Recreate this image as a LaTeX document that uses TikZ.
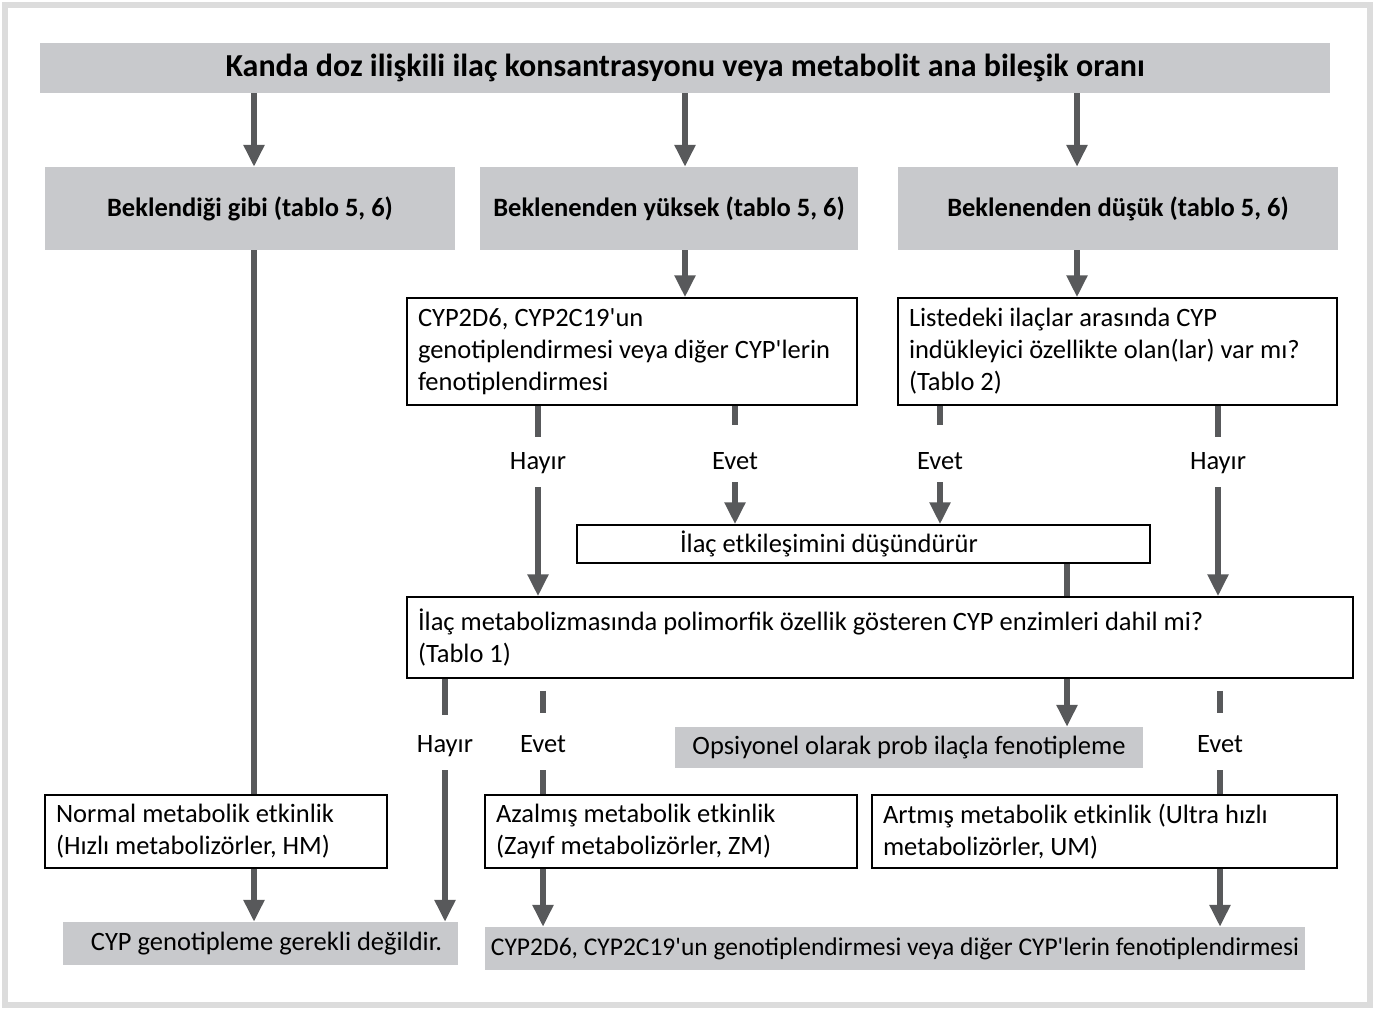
\documentclass[tikz,border=0pt]{standalone}
\usepackage{fontspec}
\newfontfamily\carlito{Carlito}
\usetikzlibrary{arrows.meta}
\definecolor{boxgrey}{RGB}{200,201,204}
\definecolor{arrowgrey}{RGB}{88,89,91}
\definecolor{framegrey}{RGB}{220,220,220}
\tikzset{
BOX/.style={draw=black,line width=1.5pt,fill=white,inner sep=0pt,align=flush left,font=\carlito\fontsize{26.5}{32}\selectfont},
GREYBOX/.style={draw=none,fill=boxgrey,inner sep=0pt,font=\carlito\fontsize{26.5}{32}\selectfont},
HEAD/.style={GREYBOX,font=\carlito\bfseries\fontsize{#1}{32}\selectfont},
HEAD/.default = 26.5,
LABEL/.style={inner sep=0pt,text height=22pt,text depth=3pt,font=\carlito\fontsize{26.5}{32}\selectfont},
LINK/.style={draw=arrowgrey,line width=6pt},
ARROW/.style={LINK,-{Triangle[width=20pt,length=22pt]}},
}

\begin{document}
\begin{tikzpicture}[x=1pt,y=-1pt]
	\useasboundingbox (0,0) rectangle (1375,1011);
	\draw[framegrey,line width=6pt] (5,5) rectangle (1370,1005); % frame
	% columns of the connectors
	\coordinate (cA) at (254,0);
	\coordinate (cB) at (685,0);
	\coordinate (cC) at (1077,0);
	\coordinate (cF) at (1067,0);
	% top rows
	\node[HEAD=32,minimum width=1290pt,minimum height=50pt] (title) at (685,68) {Kanda doz ilişkili ilaç konsantrasyonu veya metabolit ana bileşik oranı};
	\node[HEAD,minimum width=410pt,minimum height=83pt] (expected) at (250,208.5) {Beklendiği gibi (tablo 5, 6)};
	\node[HEAD,minimum width=378pt,minimum height=83pt] (high) at (669,208.5) {Beklenenden yüksek (tablo 5, 6)};
	\node[HEAD,minimum width=440pt,minimum height=83pt] (low) at (1118,208.5) {Beklenenden düşük (tablo 5, 6)};
	\node[BOX,minimum width=450pt,minimum height=107pt,text width=428pt] (genotype) at (632,351.5) {CYP2D6, CYP2C19'un\\genotiplendirmesi veya diğer CYP'lerin\\fenotiplendirmesi};
	\node[BOX,minimum width=439pt,minimum height=107pt,text width=417pt] (inducer) at (1117.5,351.5) {Listedeki ilaçlar arasında CYP\\indükleyici özellikte olan(lar) var mı?\\(Tablo 2)};
	\node[BOX,minimum width=573pt,minimum height=38pt,text width=551pt] (interact) at (863.5,544) {\hspace*{92pt}İlaç etkileşimini düşündürür};
	\node[BOX,minimum width=946pt,minimum height=81pt,text width=924pt] (poly) at (880,637.5) {İlaç metabolizmasında polimorfik özellik gösteren CYP enzimleri dahil mi?\\(Tablo 1)};
	\node[GREYBOX,minimum width=468pt,minimum height=41pt] (probe) at (909,747.5) {Opsiyonel olarak prob ilaçla fenotipleme};
	% bottom rows
	\node[BOX,minimum width=342pt,minimum height=73pt,text width=320pt] (normal) at (216,831.5) {Normal metabolik etkinlik\\(Hızlı metabolizörler, HM)};
	\node[BOX,minimum width=372pt,minimum height=73pt,text width=350pt] (poor) at (671,831.5) {Azalmış metabolik etkinlik\\(Zayıf metabolizörler, ZM)};
	\node[BOX,minimum width=465pt,minimum height=73pt,text width=443pt] (ultra) at (1104.5,831.5) {Artmış metabolik etkinlik (Ultra hızlı\\metabolizörler, UM)};
	\node[GREYBOX,minimum width=395pt,minimum height=43pt] (nogenotype) at (260.5,943.5) {\hspace*{12pt}CYP genotipleme gerekli değildir.};
	\node[GREYBOX,minimum width=820pt,minimum height=43pt,font=\carlito\fontsize{25.5}{32}\selectfont] (dogenotype) at (895,948.5) {CYP2D6, CYP2C19'un genotiplendirmesi veya diğer CYP'lerin fenotiplendirmesi};
	% answers
	\node[LABEL] (noA) at (538,460) {Hayır};
	\node[LABEL] (yesA) at (735,460) {Evet};
	\node[LABEL] (yesB) at (940,460) {Evet};
	\node[LABEL] (noB) at (1218,460) {Hayır};
	\node[LABEL] (noC) at (445,743) {Hayır};
	\node[LABEL] (yesC) at (543,743) {Evet};
	\node[LABEL] (yesD) at (1220,743) {Evet};
	% connectors
	\draw[ARROW] (title.south -| cA) -- (expected.north -| cA);
	\draw[ARROW] (title.south -| cB) -- (high.north -| cB);
	\draw[ARROW] (title.south -| cC) -- (low.north -| cC);
	\draw[ARROW] (high.south -| cB) -- (genotype.north -| cB);
	\draw[ARROW] (low.south -| cC) -- (inducer.north -| cC);
	\draw[LINK] (expected.south -| cA) -- (normal.north -| cA);
	\draw[ARROW] (normal.south -| cA) -- (nogenotype.north -| cA);
	\draw[LINK,shorten >=10.5pt] (genotype.south -| noA) -- (noA);
	\draw[ARROW,shorten <=14.5pt] (noA) -- (poly.north -| noA);
	\draw[LINK,shorten >=22.5pt] (genotype.south -| yesA) -- (yesA);
	\draw[ARROW,shorten <=9.5pt] (yesA) -- (interact.north -| yesA);
	\draw[LINK,shorten >=22.5pt] (inducer.south -| yesB) -- (yesB);
	\draw[ARROW,shorten <=9.5pt] (yesB) -- (interact.north -| yesB);
	\draw[LINK,shorten >=10.5pt] (inducer.south -| noB) -- (noB);
	\draw[ARROW,shorten <=14.5pt] (noB) -- (poly.north -| noB);
	\draw[LINK] (interact.south -| cF) -- (poly.north -| cF);
	\draw[ARROW] (poly.south -| cF) -- (probe.north -| cF);
	\draw[LINK,shorten >=15.5pt] (poly.south -| noC) -- (noC);
	\draw[ARROW,shorten <=14.5pt] (noC) -- (nogenotype.north -| noC);
	\foreach \ans/\target in {yesC/poor,yesD/ultra}{
		\draw[LINK,shorten <=12pt,shorten >=17.5pt] (poly.south -| \ans) -- (\ans);
		\draw[LINK,shorten <=14.5pt] (\ans) -- (\target.north -| \ans);
		\draw[ARROW] (\target.south -| \ans) -- (dogenotype.north -| \ans);
	}
\end{tikzpicture}
\end{document}
